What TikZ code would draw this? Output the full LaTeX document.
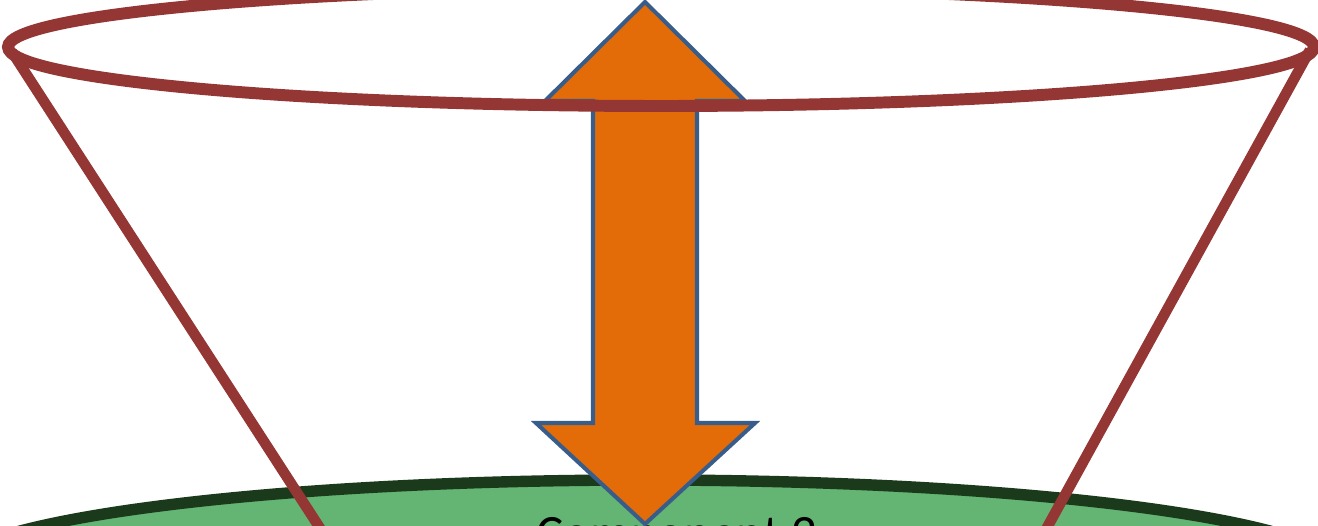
\documentclass[tikz,border=0pt]{standalone}
\usepackage{fontspec}
\setmainfont{Carlito}
\usepackage{tikz}
\definecolor{coneC}{HTML}{943634}
\definecolor{arrowC}{HTML}{E36C09}
\definecolor{edgeC}{HTML}{385D8A}
\definecolor{groundC}{HTML}{64B473}
\definecolor{rimC}{HTML}{1B3A1B}

\begin{document}
\begin{tikzpicture}[
    x=0.02cm, y=-0.02cm,
    cone/.style={draw=coneC, line width=6pt},
    ground/.style={draw=rimC, fill=groundC, line width=6.5pt},
    bigarrow/.style={draw=edgeC, fill=arrowC, line width=2.3pt, line join=miter},
    caption/.style={font=\fontsize{29}{34}\selectfont, text=black, inner sep=0pt}
]
\useasboundingbox (0,0) rectangle (1318,526);
\clip (0,0) rectangle (1318,526);

% lower component
\draw[ground] (645,573) ellipse [x radius=700, y radius=93];
\node[caption, anchor=base] (comp) at (677,550) {Component 2};

% cone sides
\coordinate (rimL) at (12,52);
\coordinate (rimR) at (1310,50);
\coordinate (footL) at (349,573);
\coordinate (footR) at (1022,573);
\draw[cone] (rimL) -- (footL);
\draw[cone] (rimR) -- (footR);

% double arrow
\draw[bigarrow] (645,2) -- (745,101) -- (697,101) -- (697,423) -- (755,423)
    -- (645,524) -- (536,423) -- (593,423) -- (593,101) -- (545,101) -- cycle;

% cone rim
\draw[cone, line width=6.8pt] (661,47) ellipse [x radius=653, y radius=59];
\end{tikzpicture}
\end{document}
